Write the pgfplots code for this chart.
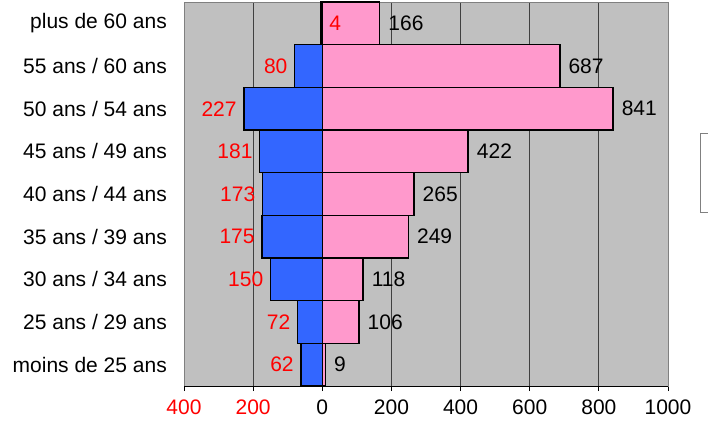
\documentclass[border=0pt]{standalone}
\usepackage{pgfplots}
\pgfplotsset{compat=1.18}
\usepackage{pgfplotstable}
\usepackage{fontspec}
\setmainfont{Liberation Sans}
\definecolor{bgray}{HTML}{C0C0C0}
\definecolor{fblue}{HTML}{3366FF}
\definecolor{hpink}{HTML}{FF99CC}
\definecolor{gridc}{HTML}{404040}
\definecolor{bordc}{HTML}{808080}
\pgfplotstableread{
y m f h
0 -62 62 9
1 -72 72 106
2 -150 150 118
3 -175 175 249
4 -173 173 265
5 -181 181 422
6 -227 227 841
7 -80 80 687
8 -4 4 166
}\data
\begin{document}
\fontsize{21bp}{25bp}\selectfont
\begin{tikzpicture}
\useasboundingbox (0,0) rectangle (708bp,437bp);
\begin{axis}[
  at={(184bp,51bp)}, anchor=south west,
  scale only axis, width=484bp, height=384bp,
  xmin=-400, xmax=1000, ymin=-0.5, ymax=8.5,
  xtick={-400,-200,0,200,400,600,800,1000},
  xticklabels={\textcolor{red}{400},\textcolor{red}{200},0,200,400,600,800,1000},
  ytick={0,...,8},
  yticklabels={moins de 25 ans,25 ans / 29 ans,30 ans / 34 ans,35 ans / 39 ans,40 ans / 44 ans,45 ans / 49 ans,50 ans / 54 ans,55 ans / 60 ans,plus de 60 ans},
  xmajorgrids, grid style={gridc, line width=0.8bp},
  axis background/.style={fill=bgray},
  axis line style={bordc, line width=0.8bp},
  x tick style={black, line width=0.8bp},
  xtick pos=left, xtick align=outside, major tick length=5bp,
  ytick style={draw=none},
  xticklabel style={inner sep=0pt, anchor=north, yshift=-9bp},
  yticklabel style={inner sep=0pt, xshift=-17bp},
  tick label style={font=\fontsize{21bp}{25bp}\selectfont},
  /pgf/number format/assume math mode=true,
  extra x ticks={0}, extra x tick labels={},
  extra x tick style={grid style={black, line width=2bp}, major tick length=0pt},
  bar width=1,
  clip=false,
  after end axis/.code={\draw[black, line width=0.8bp] (rel axis cs:0,0) -- (rel axis cs:1,0);},
]
\addplot[xbar, bar shift=0pt, bar width=1, fill=fblue, draw=black, line width=1.5bp] table[x=m, y=y] {\data};
\addplot[xbar, bar shift=0pt, bar width=1, fill=hpink, draw=black, line width=1.5bp,
  point meta=explicit, nodes near coords,
  nodes near coords style={black, anchor=west, inner sep=0pt, xshift=8bp, font=\fontsize{21bp}{25bp}\selectfont}]
  table[x=h, y=y, meta=h] {\data};
\addplot[only marks, mark=none, restrict y to domain=0:7,
  point meta=explicit, nodes near coords,
  nodes near coords style={red, anchor=east, inner sep=0pt, xshift=-7bp, font=\fontsize{21bp}{25bp}\selectfont}]
  table[x=m, y=y, meta=f] {\data};
\addplot[only marks, mark=none,
  point meta=explicit, nodes near coords,
  nodes near coords style={red, anchor=west, inner sep=0pt, xshift=7bp, font=\fontsize{21bp}{25bp}\selectfont}]
  coordinates {(0,8) [4]};
\end{axis}
\draw[bordc, line width=0.8bp, fill=white] (700bp,225bp) rectangle (730bp,304bp);
\end{tikzpicture}
\end{document}
